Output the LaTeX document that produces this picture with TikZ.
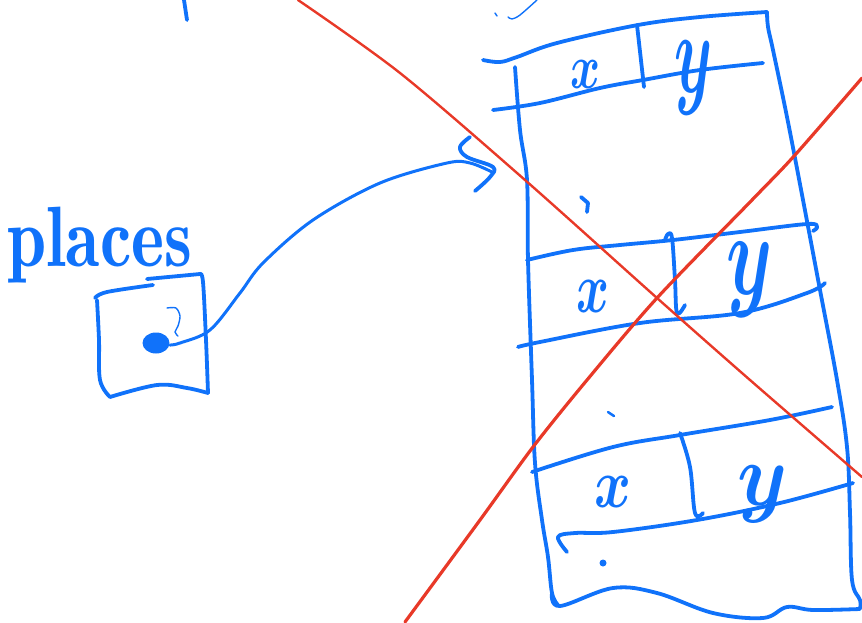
\documentclass[tikz,border=0pt]{standalone}
\usepackage{graphicx}
\usetikzlibrary{shapes.geometric}
\definecolor{inkblue}{RGB}{16,114,250}
\definecolor{inkred}{RGB}{232,57,40}
\tikzset{
  pen/.style={draw=inkblue, line width=3.8pt, line cap=round, line join=round},
  thinpen/.style={draw=inkblue, line width=1.4pt, line cap=round, line join=round},
  redpen/.style={draw=inkred, line width=2.8pt, line cap=round},
  letter/.style={inner sep=0pt, text=inkblue},
}
\begin{document}
\begin{tikzpicture}[x=1pt,y=-1pt]
\useasboundingbox (0,0) rectangle (862,622);

% stray strokes at the top
\draw[pen] (184,0) -- (187,20);
\draw[thinpen] (495,13) -- (497,16);
\draw[thinpen] plot[smooth] coordinates {(508,17) (512,19) (520,15) (537,0)};

% label and box "places"
\node[letter, anchor=base west] (places) at (7,266) {\resizebox*{185pt}{76pt}{\fontseries{sb}\selectfont places}};
\draw[pen] plot[smooth, tension=0.6] coordinates {(97,300) (99,340) (100,380) (110,397)};
\draw[pen] plot[smooth, tension=0.6] coordinates {(110,397) (157,385) (187,388) (208,393)};
\draw[pen] plot[smooth, tension=0.6] coordinates {(200,274) (203,282) (206,340) (208,393)};
\draw[pen] plot[smooth, tension=0.6] coordinates {(95,298) (107,292) (153,285)};
\draw[pen] plot[smooth, tension=0.6] coordinates {(147,279) (200,274)};
\node[ellipse, fill=inkblue, minimum width=27pt, minimum height=21pt, inner sep=0pt] (blob) at (156,343) {};
\draw[thinpen] plot[smooth] coordinates {(167,308) (176,308) (180,316) (178,326) (175,332) (178,336)};

% connector from the dot to the table
\draw[draw=inkblue, line width=3pt, line cap=round] plot[smooth, tension=0.55] coordinates {(170,345) (180,343) (210,330) (240,293) (263,263) (313,220) (380,183) (447,163) (470,163) (492,172)};
\draw[pen] plot[smooth, tension=0.6] coordinates {(470,137) (460,147) (467,157) (493,167) (490,177) (475,191)};

% table outline
\draw[pen] plot[smooth, tension=0.6] coordinates {(483,60) (500,62) (517,57) (557,43) (638,25) (700,17) (767,12)};
\draw[pen] plot[smooth, tension=0.6] coordinates {(767,12) (768,27) (773,50) (787,117) (803,200) (820,290) (837,380) (847,447) (850,513) (852,580) (860,600) (860,608)};
\draw[pen] plot[smooth, tension=0.6] coordinates {(515,67) (520,130) (527,180) (528,260) (532,380) (535,463) (542,520) (548,557) (552,593) (558,605)};
\draw[pen] plot[smooth, tension=0.6] coordinates {(552,593) (560,606) (613,588) (657,593) (713,613) (763,618) (787,607) (813,610) (860,609)};

% row 1
\draw[pen] plot[smooth, tension=0.6] coordinates {(493,110) (540,103) (600,88) (643,80) (700,70) (763,63)};
\draw[pen] (637,25) -- (644,87);
\node[letter] (x1) at (585,74) {\resizebox*{30pt}{28pt}{\boldmath$x$}};
\node[letter] (y1) at (694,78) {\resizebox*{38pt}{74pt}{\boldmath$y$}};

% row 2
\draw[pen] plot[smooth, tension=0.6] coordinates {(527,260) (573,250) (620,245) (673,240) (740,232) (807,224) (817,227) (813,231)};
\draw[pen] plot[smooth, tension=0.6] coordinates {(518,347) (540,342) (640,323) (740,313) (807,293) (825,283)};
\draw[pen] plot[smooth, tension=0.6] coordinates {(665,240) (668,234) (672,238) (675,280) (677,313) (685,305)};
\node[letter] (x2) at (593,296) {\resizebox*{33pt}{32pt}{\boldmath$x$}};
\node[letter] (y2) at (750,280) {\resizebox*{46pt}{75pt}{\boldmath$y$}};
\draw[pen] (581,197) -- (588,203) -- (587,212);

% row 3
\draw[pen] plot[smooth, tension=0.6] coordinates {(532,472) (613,447) (680,435) (770,420) (832,407)};
\draw[pen] plot[smooth, tension=0.6] coordinates {(567,552) (558,537) (575,533) (613,532) (697,520) (780,503) (853,483)};
\draw[pen] plot[smooth, tension=0.6] coordinates {(680,433) (690,467) (695,513) (703,513)};
\node[letter] (x3) at (613,492) {\resizebox*{37pt}{31pt}{\boldmath$x$}};
\node[letter] (y3) at (763,494) {\resizebox*{50pt}{57pt}{\boldmath$y$}};
\draw[pen, line width=2.5pt] (608,412) -- (614,416);
\fill[inkblue] (603,563) circle (3.5pt);

% red crossing lines
\draw[redpen, line width=2.4pt] plot[smooth, tension=0.5] coordinates {(298,0) (400,73) (525,180) (657,298) (750,380) (862,477)};
\draw[redpen, line width=3.2pt] plot[smooth, tension=0.5] coordinates {(405,622) (480,520) (533,447) (587,380) (657,298) (752,200) (795,155) (862,78)};
\end{tikzpicture}
\end{document}
